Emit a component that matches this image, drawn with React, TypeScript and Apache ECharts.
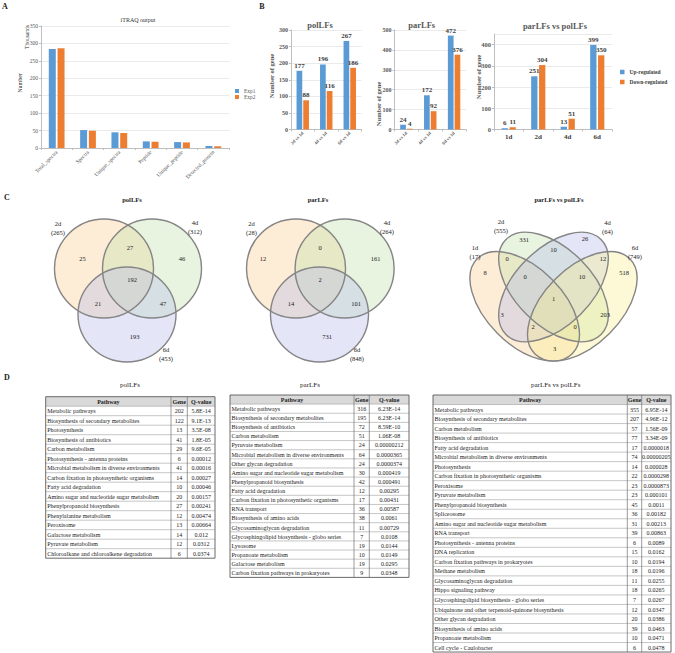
import React, { useEffect, useRef } from "react";
import * as echarts from "echarts";

const FONT = '"Liberation Serif", "Times New Roman", serif';
const BLUE = "#5b9bd5";
const ORANGE = "#ed7d31";
const AXIS_GRAY = "#bfbfbf";
const GRID_GRAY = "#e4e4e4";
const TEXT_GRAY = "#595959";
const DARK = "#333333";

// ---------------- Panel A : iTRAQ output (thousands) ----------------
const itraqCategories = ["Total_spectra", "Spectra", "Unique_spectra", "Peptide", "Unique_peptide", "Detected_protein"];
const itraqExp1 = [284, 51.5, 45, 19, 17, 5.7];
const itraqExp2 = [286, 49.5, 43, 18, 16, 5];

// ---------------- Panel B : DEG numbers ----------------
const timeCategories = ["2d vs 1d", "4d vs 1d", "6d vs 1d"];
const polUp = [177, 196, 267];
const polDown = [88, 116, 186];
const parUp = [24, 172, 472];
const parDown = [4, 92, 376];
const dayCategories = ["1d", "2d", "4d", "6d"];
const cmpUp = [6, 251, 13, 399];
const cmpDown = [11, 304, 51, 350];

// ---------------- Panel C : Venn counts ----------------
const polVennSets = ["2d", "4d", "6d"];
const polVennTotals = [265, 312, 453];
const polVennRegions = [25, 27, 46, 192, 21, 47, 193];
const parVennSets = ["2d", "4d", "6d"];
const parVennTotals = [28, 264, 848];
const parVennRegions = [12, 0, 161, 2, 14, 101, 731];
const cmpVennSets = ["1d", "2d", "4d", "6d"];
const cmpVennTotals = [17, 555, 64, 749];
const cmpVennRegions = [331, 26, 10, 8, 0, 12, 518, 0, 10, 1, 3, 203, 2, 0, 3];

// ---------------- Panel D : KEGG tables ----------------
const polPathways = [
  "Metabolic pathways", "Biosynthesis of secondary metabolites", "Photosynthesis", "Biosynthesis of antibiotics",
  "Carbon metabolism", "Photosynthesis - antenna proteins", "Microbial metabolism in diverse environments",
  "Carbon fixation in photosynthetic organisms", "Fatty acid degradation", "Amino sugar and nucleotide sugar metabolism",
  "Phenylpropanoid biosynthesis", "Phenylalanine metabolism", "Peroxisome", "Galactose metabolism",
  "Pyruvate metabolism", "Chloroalkane and chloroalkene degradation",
];
const polGenes = [202, 122, 13, 41, 29, 6, 41, 14, 10, 20, 27, 12, 13, 14, 12, 6];
const polQ = ["5.8E-14", "9.1E-13", "3.5E-08", "1.8E-05", "9.6E-05", "0.00012", "0.00016", "0.00027", "0.00046",
  "0.00157", "0.00241", "0.00474", "0.00664", "0.012", "0.0312", "0.0374"];

const parPathways = [
  "Metabolic pathways", "Biosynthesis of secondary metabolites", "Biosynthesis of antibiotics", "Carbon metabolism",
  "Pyruvate metabolism", "Microbial metabolism in diverse environments", "Other glycan degradation",
  "Amino sugar and nucleotide sugar metabolism", "Phenylpropanoid biosynthesis", "Fatty acid degradation",
  "Carbon fixation in photosynthetic organisms", "RNA transport", "Biosynthesis of amino acids",
  "Glycosaminoglycan degradation", "Glycosphingolipid biosynthesis - globo series", "Lysosome",
  "Propanoate metabolism", "Galactose metabolism", "Carbon fixation pathways in prokaryotes",
];
const parGenes = [316, 195, 72, 51, 24, 64, 24, 30, 42, 12, 17, 36, 38, 11, 7, 19, 10, 19, 9];
const parQ = ["6.23E-14", "6.23E-14", "8.59E-10", "1.06E-08", "0.00000212", "0.0000365", "0.0000374", "0.000419",
  "0.000491", "0.00295", "0.00431", "0.00587", "0.0061", "0.00729", "0.0108", "0.0144", "0.0149", "0.0295", "0.0348"];

const cmpPathways = [
  "Metabolic pathways", "Biosynthesis of secondary metabolites", "Carbon metabolism", "Biosynthesis of antibiotics",
  "Fatty acid degradation", "Microbial metabolism in diverse environments", "Photosynthesis",
  "Carbon fixation in photosynthetic organisms", "Peroxisome", "Pyruvate metabolism", "Phenylpropanoid biosynthesis",
  "Spliceosome", "Amino sugar and nucleotide sugar metabolism", "RNA transport", "Photosynthesis - antenna proteins",
  "DNA replication", "Carbon fixation pathways in prokaryotes", "Methane metabolism", "Glycosaminoglycan degradation",
  "Hippo signaling pathway", "Glycosphingolipid biosynthesis - globo series",
  "Ubiquinone and other terpenoid-quinone biosynthesis", "Other glycan degradation", "Biosynthesis of amino acids",
  "Propanoate metabolism", "Cell cycle - Caulobacter",
];
const cmpGenes = [355, 207, 57, 77, 17, 74, 14, 22, 23, 23, 45, 36, 31, 39, 6, 15, 10, 18, 11, 18, 7, 12, 20, 39, 10, 6];
const cmpQ = ["6.95E-14", "4.96E-12", "1.56E-09", "3.34E-09", "0.0000018", "0.00000205", "0.000028", "0.0000298",
  "0.0000873", "0.000101", "0.0011", "0.00182", "0.00213", "0.00863", "0.0089", "0.0162", "0.0194", "0.0196",
  "0.0255", "0.0265", "0.0267", "0.0347", "0.0386", "0.0463", "0.0471", "0.0478"];

// ---------------- layout helpers (positions only) ----------------
type TxtOpt = { size?: number; weight?: string; color?: string; align?: string; rotation?: number; lineHeight?: number };
const txt = (x: number, y: number, text: string, o: TxtOpt = {}) => ({
  type: "text",
  x,
  y,
  rotation: o.rotation || 0,
  silent: true,
  z: 10,
  style: {
    text,
    fontSize: o.size || 6,
    fontFamily: FONT,
    fontWeight: o.weight || "normal",
    fill: o.color || "#222",
    align: o.align || "center",
    textAlign: o.align || "center",
    verticalAlign: "middle",
    textVerticalAlign: "middle",
    lineHeight: o.lineHeight || Math.round((o.size || 6) * 1.25),
  },
});

type Ell = { cx: number; cy: number; rx: number; ry: number; rot: number };
const vennShapes = (ells: Ell[], fills: string[]) => {
  const out: any[] = [];
  ells.forEach((e, i) =>
    out.push({
      type: "ellipse", x: e.cx, y: e.cy, rotation: e.rot, silent: true, z: 2,
      shape: { cx: 0, cy: 0, rx: e.rx, ry: e.ry },
      style: { fill: fills[i], stroke: "none" },
    })
  );
  ells.forEach((e) =>
    out.push({
      type: "ellipse", x: e.cx, y: e.cy, rotation: e.rot, silent: true, z: 3,
      shape: { cx: 0, cy: 0, rx: e.rx, ry: e.ry },
      style: { fill: "none", stroke: "#858585", lineWidth: 1.4 },
    })
  );
  return out;
};

const FILL_OR = "rgba(252,205,140,0.36)";
const FILL_GR = "rgba(190,225,170,0.36)";
const FILL_BL = "rgba(180,186,235,0.36)";
const FILL_YE = "rgba(250,238,140,0.36)";

const polVennLayout = {
  ells: [
    { cx: 104, cy: 268.5, rx: 49.5, ry: 49.5, rot: 0 },
    { cx: 152, cy: 268.5, rx: 49.5, ry: 49.5, rot: 0 },
    { cx: 127, cy: 314.5, rx: 49, ry: 47.5, rot: 0 },
  ],
  setPos: [[58, 227.5], [195, 226.5], [166, 353.5]],
  regionPos: [[82.5, 258], [130, 247], [182, 258], [132, 279], [98, 303], [163, 303], [134.6, 336]],
};
const parVennLayout = {
  ells: [
    { cx: 296, cy: 268.5, rx: 49.5, ry: 49.5, rot: 0 },
    { cx: 344.6, cy: 268.5, rx: 49.5, ry: 49.5, rot: 0 },
    { cx: 319.5, cy: 314.5, rx: 49, ry: 47.5, rot: 0 },
  ],
  setPos: [[251.5, 227.5], [387, 226.5], [357, 353.5]],
  regionPos: [[263, 258], [320, 247], [375.5, 258], [320, 279], [291, 303], [356, 303], [327, 336]],
};
const Q = Math.PI / 4;
const cmpVennLayout = {
  ells: [
    { cx: 524.7, cy: 306.3, rx: 67.2, ry: 38.4, rot: -Q },
    { cx: 553.5, cy: 287, rx: 67.2, ry: 38.4, rot: -Q },
    { cx: 553.5, cy: 287, rx: 67.2, ry: 38.4, rot: Q },
    { cx: 582.3, cy: 306.3, rx: 67.2, ry: 38.4, rot: Q },
  ],
  setPos: [[475, 252], [501, 225.5], [607.5, 226.5], [635, 251.5]],
  regionPos: [
    [524, 239], [585, 238], [553.5, 249], [485, 272], [507, 258], [603, 258], [624, 272],
    [525, 276], [582, 276], [553.7, 298], [502, 314], [605, 314], [533, 326], [575, 326], [554.6, 348],
  ],
};

const buildVenn = (sets: string[], totals: number[], regions: number[], layout: any, fills: string[]) => {
  const els = vennShapes(layout.ells, fills);
  sets.forEach((s, i) => {
    const [x, y] = layout.setPos[i];
    els.push(txt(x, y, `${s}\n(${totals[i]})`, { size: 6.5, lineHeight: 9 }));
  });
  regions.forEach((v, i) => {
    const [x, y] = layout.regionPos[i];
    els.push(txt(x, y, String(v), { size: 6.5 }));
  });
  return els;
};

type TableBox = { left: number; c1: number; c2: number; right: number; top: number; rowH: number };
const buildTable = (box: TableBox, pathways: string[], genes: number[], qs: string[]) => {
  const els: any[] = [];
  const n = pathways.length + 1;
  const { left, c1, c2, right, top, rowH } = box;
  const bottom = top + n * rowH;
  els.push({ type: "rect", silent: true, z: 1, shape: { x: left, y: top, width: right - left, height: rowH }, style: { fill: "#d9d9d9" } });
  for (let i = 1; i < n; i++) {
    const y = top + i * rowH;
    els.push({ type: "line", silent: true, z: 2, shape: { x1: left, y1: y, x2: right, y2: y }, style: { stroke: "#a0a0a0", lineWidth: 0.6 } });
  }
  [c1, c2].forEach((x) =>
    els.push({ type: "line", silent: true, z: 2, shape: { x1: x, y1: top, x2: x, y2: bottom }, style: { stroke: "#707070", lineWidth: 0.7 } })
  );
  els.push({ type: "rect", silent: true, z: 3, shape: { x: left, y: top, width: right - left, height: bottom - top }, style: { fill: "none", stroke: "#5a5a5a", lineWidth: 0.9 } });
  const hy = top + rowH / 2 + 0.3;
  els.push(txt((left + c1) / 2, hy, "Pathway", { size: 6, weight: "bold" }));
  els.push(txt((c1 + c2) / 2, hy, "Gene", { size: 6, weight: "bold" }));
  els.push(txt((c2 + right) / 2, hy, "Q-value", { size: 6, weight: "bold" }));
  pathways.forEach((p, i) => {
    const y = top + (i + 1.5) * rowH + 0.3;
    els.push(txt(left + 1.5, y, p, { size: 6, align: "left" }));
    els.push(txt((c1 + c2) / 2, y, String(genes[i]), { size: 6 }));
    els.push(txt((c2 + right) / 2, y, qs[i], { size: 6 }));
  });
  return els;
};

const catAxis = (gridIndex: number, data: string[], label: any) => ({
  type: "category",
  gridIndex,
  data,
  axisLine: { lineStyle: { color: AXIS_GRAY, width: 1 } },
  axisTick: { show: true, length: 2, lineStyle: { color: AXIS_GRAY } },
  axisLabel: { interval: 0, fontFamily: FONT, color: TEXT_GRAY, ...label },
});
const valAxis = (gridIndex: number, max: number, interval: number, label: any, extra: any = {}) => ({
  type: "value",
  gridIndex,
  min: 0,
  max,
  interval,
  axisLine: { show: true, lineStyle: { color: AXIS_GRAY, width: 1 } },
  axisTick: { show: true, length: 2, lineStyle: { color: AXIS_GRAY } },
  splitLine: { show: true, lineStyle: { color: GRID_GRAY, width: 0.8 } },
  axisLabel: { fontFamily: FONT, color: TEXT_GRAY, margin: 3, ...label },
  ...extra,
});

const dataLabel = {
  show: true,
  position: "top",
  distance: 1.5,
  fontFamily: FONT,
  fontSize: 7,
  fontWeight: "bold",
  color: "#404040",
};

function buildOption() {
  const graphic: any[] = [
    // panel letters
    txt(5, 6, "A", { size: 8, weight: "bold" }),
    txt(262, 6, "B", { size: 8, weight: "bold" }),
    txt(7, 197, "C", { size: 8, weight: "bold" }),
    txt(7, 377, "D", { size: 8, weight: "bold" }),
    // panel A titles
    txt(138, 20, "iTRAQ output", { size: 6, color: DARK }),
    txt(27, 37, "Thousands", { size: 5.5, color: DARK, rotation: Math.PI / 2 }),
    txt(20, 83, "Number", { size: 6, color: DARK, rotation: Math.PI / 2 }),
    // panel B titles
    txt(320, 25, "polLFs", { size: 8.5, weight: "bold", color: TEXT_GRAY }),
    txt(421.7, 25, "parLFs", { size: 8.5, weight: "bold", color: TEXT_GRAY }),
    txt(555, 26, "parLFs vs polLFs", { size: 8.5, weight: "bold", color: TEXT_GRAY }),
    txt(271, 76, "Number of gene", { size: 6.5, weight: "bold", color: TEXT_GRAY, rotation: Math.PI / 2 }),
    txt(378, 104, "Number of gene", { size: 6.5, weight: "bold", color: TEXT_GRAY, rotation: Math.PI / 2 }),
    txt(478, 77, "Number of gene", { size: 6.5, weight: "bold", color: TEXT_GRAY, rotation: Math.PI / 2 }),
    // panel C titles
    txt(132, 199, "polLFs", { size: 6.5, weight: "bold" }),
    txt(318, 199, "parLFs", { size: 6.5, weight: "bold" }),
    txt(559, 199, "parLFs vs polLFs", { size: 6.5, weight: "bold" }),
    // panel D titles
    txt(130, 385, "polLFs", { size: 7 }),
    txt(310, 385, "parLFs", { size: 7 }),
    txt(555.7, 385, "parLFs vs polLFs", { size: 7 }),
  ];
  graphic.push(...buildVenn(polVennSets, polVennTotals, polVennRegions, polVennLayout, [FILL_OR, FILL_GR, FILL_BL]));
  graphic.push(...buildVenn(parVennSets, parVennTotals, parVennRegions, parVennLayout, [FILL_OR, FILL_GR, FILL_BL]));
  graphic.push(...buildVenn(cmpVennSets, cmpVennTotals, cmpVennRegions, cmpVennLayout, [FILL_OR, FILL_GR, FILL_BL, FILL_YE]));
  graphic.push(...buildTable({ left: 45.7, c1: 171, c2: 187.3, right: 215, top: 396.7, rowH: 9.5 }, polPathways, polGenes, polQ));
  graphic.push(...buildTable({ left: 230, c1: 354, c2: 369.3, right: 409, top: 395, rowH: 9.12 }, parPathways, parGenes, parQ));
  graphic.push(...buildTable({ left: 433, c1: 627.3, c2: 641.7, right: 671, top: 395, rowH: 9.52 }, cmpPathways, cmpGenes, cmpQ));

  return {
    animation: false,
    backgroundColor: "#ffffff",
    textStyle: { fontFamily: FONT },
    grid: [
      { left: 41, top: 26, width: 188, height: 122 },
      { left: 291, top: 30, width: 70.5, height: 99.5 },
      { left: 394.5, top: 30, width: 71.5, height: 99.5 },
      { left: 494, top: 34.1, width: 118, height: 95.4 },
    ],
    xAxis: [
      catAxis(0, itraqCategories, { rotate: 45, fontSize: 5.5, margin: 3 }),
      catAxis(1, timeCategories, { rotate: 45, fontSize: 4.6, fontWeight: "bold", margin: 3 }),
      catAxis(2, timeCategories, { rotate: 45, fontSize: 4.6, fontWeight: "bold", margin: 3 }),
      catAxis(3, dayCategories, { fontSize: 7, fontWeight: "bold", margin: 4, color: "#404040" }),
    ],
    yAxis: [
      valAxis(0, 350, 50, { fontSize: 5.5 }),
      valAxis(1, 300, 50, { fontSize: 6, fontWeight: "bold" }),
      valAxis(2, 500, 100, { fontSize: 6, fontWeight: "bold" }),
      valAxis(3, 450, 100, { fontSize: 6.5, fontWeight: "bold", showMaxLabel: false }),
    ],
    legend: [
      {
        data: ["Exp1", "Exp2"],
        orient: "vertical",
        left: 230,
        top: 83,
        itemWidth: 4,
        itemHeight: 4,
        itemGap: 0,
        icon: "rect",
        textStyle: { fontSize: 5.5, fontFamily: FONT, color: TEXT_GRAY },
      },
      {
        data: ["Up-regulated", "Down-regulated"],
        orient: "vertical",
        left: 615,
        top: 64,
        itemWidth: 4.5,
        itemHeight: 4.5,
        itemGap: 4,
        icon: "rect",
        textStyle: { fontSize: 5.5, fontFamily: FONT, fontWeight: "bold", color: "#404040" },
      },
    ],
    series: [
      { name: "Exp1", type: "bar", xAxisIndex: 0, yAxisIndex: 0, data: itraqExp1, barWidth: 7, barGap: "25%", itemStyle: { color: BLUE } },
      { name: "Exp2", type: "bar", xAxisIndex: 0, yAxisIndex: 0, data: itraqExp2, barWidth: 7, barGap: "25%", itemStyle: { color: ORANGE } },
      { name: "Up-regulated", type: "bar", xAxisIndex: 1, yAxisIndex: 1, data: polUp, barWidth: 5.7, barGap: "18%", itemStyle: { color: BLUE }, label: dataLabel },
      { name: "Down-regulated", type: "bar", xAxisIndex: 1, yAxisIndex: 1, data: polDown, barWidth: 5.7, barGap: "18%", itemStyle: { color: ORANGE }, label: dataLabel },
      { name: "Up-regulated", type: "bar", xAxisIndex: 2, yAxisIndex: 2, data: parUp, barWidth: 5.7, barGap: "18%", itemStyle: { color: BLUE }, label: dataLabel },
      { name: "Down-regulated", type: "bar", xAxisIndex: 2, yAxisIndex: 2, data: parDown, barWidth: 5.7, barGap: "18%", itemStyle: { color: ORANGE }, label: dataLabel },
      { name: "Up-regulated", type: "bar", xAxisIndex: 3, yAxisIndex: 3, data: cmpUp, barWidth: 6.3, barGap: "25%", itemStyle: { color: BLUE }, label: dataLabel },
      { name: "Down-regulated", type: "bar", xAxisIndex: 3, yAxisIndex: 3, data: cmpDown, barWidth: 6.3, barGap: "25%", itemStyle: { color: ORANGE }, label: dataLabel },
    ],
    graphic,
  };
}

export default function App() {
  const ref = useRef<HTMLDivElement>(null);
  useEffect(() => {
    if (!ref.current) return;
    const chart = echarts.init(ref.current, undefined, { renderer: "svg" });
    chart.setOption(buildOption() as any);
    return () => chart.dispose();
  }, []);
  return (
    <div
      ref={ref}
      style={{ position: "absolute", left: 0, top: 0, width: 675, height: 653, background: "#ffffff" }}
    />
  );
}
